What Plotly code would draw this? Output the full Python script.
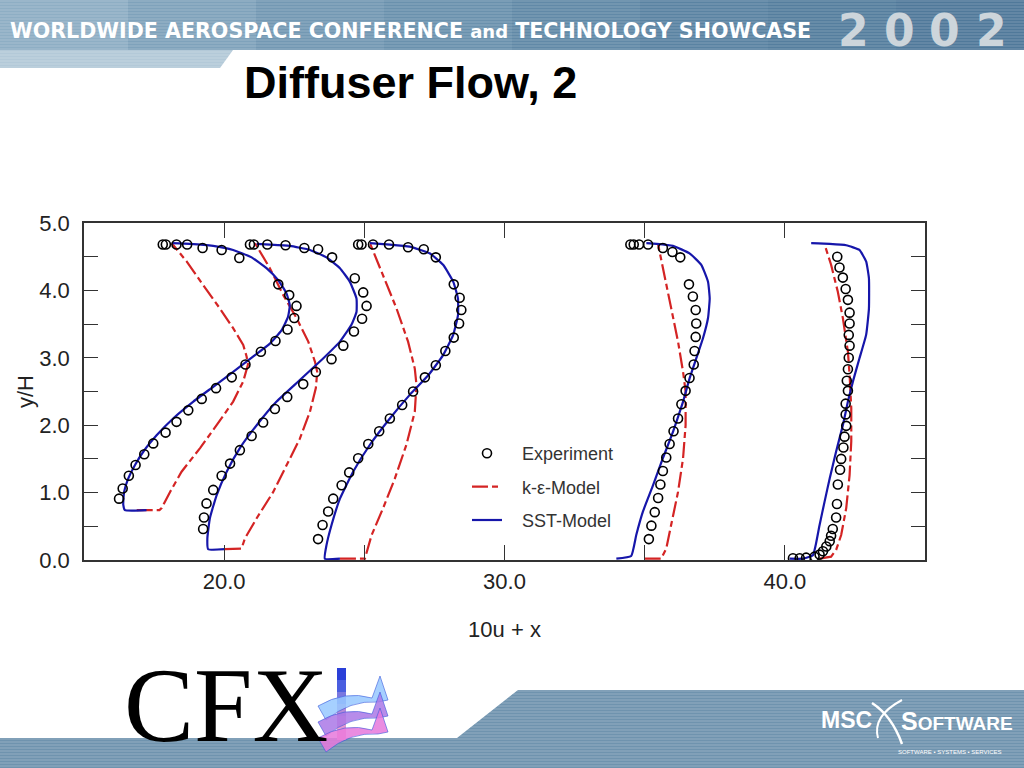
import plotly.graph_objects as go

# ---------------- data ----------------
exp1_x = [17.81, 17.92, 18.30, 18.68, 19.23, 19.91, 20.54, 21.93, 22.32, 22.58, 22.50, 22.26, 21.83, 21.31,
          20.76, 20.27, 19.71, 19.20, 18.72, 18.30, 17.91, 17.47, 17.15, 16.84, 16.60, 16.38, 16.25]
exp1_y = [4.68, 4.68, 4.68, 4.68, 4.63, 4.60, 4.48, 4.09, 3.93, 3.77, 3.59, 3.42, 3.25, 3.09,
          2.90, 2.71, 2.55, 2.39, 2.22, 2.05, 1.89, 1.73, 1.57, 1.41, 1.25, 1.06, 0.91]
sst1_x = [17.23, 16.46, 16.40, 16.43, 16.58, 16.82, 17.12, 17.59, 18.18, 18.90, 19.61, 20.32, 21.04, 21.63,
          22.05, 22.28, 22.34, 22.22, 21.93, 21.51, 20.98, 20.32, 19.61, 18.78, 18.13]
sst1_y = [0.74, 0.74, 0.82, 1.01, 1.21, 1.41, 1.61, 1.85, 2.10, 2.35, 2.57, 2.79, 3.02, 3.21,
          3.41, 3.61, 3.78, 3.96, 4.15, 4.33, 4.49, 4.60, 4.66, 4.69, 4.70]
ke1_x = [16.88, 17.69, 17.77, 18.07, 18.48, 19.14, 19.73, 20.32, 20.68, 20.85, 20.80, 20.68, 20.32, 19.85,
         19.25, 18.66, 18.13]
ke1_y = [0.74, 0.74, 0.77, 1.01, 1.31, 1.66, 2.00, 2.35, 2.65, 2.90, 3.02, 3.19, 3.44, 3.73,
         4.08, 4.43, 4.70]

exp2_x = [20.92, 21.06, 21.54, 22.19, 22.86, 23.35, 23.85, 24.66, 24.96, 25.08, 24.92, 24.63, 24.25, 23.83,
          23.27, 22.82, 22.25, 21.81, 21.39, 20.98, 20.56, 20.21, 19.91, 19.61, 19.37, 19.28, 19.25]
exp2_y = [4.68, 4.68, 4.68, 4.67, 4.63, 4.61, 4.49, 4.18, 3.97, 3.77, 3.58, 3.39, 3.18, 2.98,
          2.79, 2.61, 2.42, 2.24, 2.04, 1.84, 1.63, 1.43, 1.25, 1.04, 0.84, 0.63, 0.46]
sst2_x = [20.03, 19.43, 19.40, 19.49, 19.73, 20.09, 20.56, 21.16, 21.87, 22.70, 23.53, 24.13, 24.54, 24.72,
          24.72, 24.48, 24.13, 23.65, 23.06, 22.34, 21.63, 21.16]
sst2_y = [0.16, 0.16, 0.32, 0.62, 0.96, 1.31, 1.66, 2.00, 2.35, 2.67, 2.99, 3.24, 3.49, 3.68,
          3.88, 4.13, 4.33, 4.49, 4.60, 4.66, 4.68, 4.69]
ke2_x = [20.03, 20.62, 20.74, 21.16, 21.75, 22.23, 22.70, 23.06, 23.27, 23.32, 23.24, 23.00, 22.58, 22.11,
         21.63, 21.10]
ke2_y = [0.16, 0.17, 0.32, 0.62, 1.01, 1.41, 1.80, 2.20, 2.55, 2.79, 2.94, 3.24, 3.59, 3.93,
         4.33, 4.70]

exp3_x = [24.78, 24.90, 25.31, 25.88, 26.56, 27.12, 27.55, 28.19, 28.40, 28.46, 28.38, 28.19, 27.89, 27.55,
          27.16, 26.74, 26.35, 25.91, 25.53, 25.14, 24.78, 24.46, 24.19, 23.89, 23.71, 23.51, 23.35]
exp3_y = [4.68, 4.68, 4.68, 4.68, 4.64, 4.61, 4.49, 4.09, 3.89, 3.71, 3.51, 3.30, 3.10, 2.89,
          2.71, 2.50, 2.30, 2.10, 1.91, 1.72, 1.51, 1.30, 1.11, 0.91, 0.72, 0.52, 0.31]
sst3_x = [24.13, 23.59, 23.65, 23.83, 24.13, 24.60, 25.20, 25.91, 26.62, 27.28, 27.81, 28.17, 28.34, 28.34,
          28.17, 27.81, 27.33, 26.62, 25.91, 25.20]
sst3_y = [0.02, 0.02, 0.22, 0.52, 0.91, 1.31, 1.71, 2.10, 2.45, 2.74, 3.04, 3.34, 3.63, 3.88,
          4.13, 4.38, 4.55, 4.65, 4.68, 4.70]
ke3_x = [24.13, 25.02, 25.26, 25.67, 26.09, 26.50, 26.80, 26.86, 26.80, 26.56, 26.15, 25.67, 25.20]
ke3_y = [0.02, 0.02, 0.37, 0.77, 1.21, 1.71, 2.20, 2.60, 2.84, 3.24, 3.73, 4.23, 4.70]

exp4_x = [34.49, 34.61, 34.80, 35.12, 35.65, 35.99, 36.27, 36.58, 36.72, 36.82, 36.84, 36.82, 36.78, 36.75,
          36.60, 36.46, 36.31, 36.19, 36.03, 35.89, 35.77, 35.65, 35.56, 35.48, 35.36, 35.24, 35.15]
exp4_y = [4.68, 4.68, 4.68, 4.68, 4.63, 4.57, 4.49, 4.09, 3.91, 3.71, 3.51, 3.31, 3.10, 2.90,
          2.70, 2.51, 2.31, 2.10, 1.91, 1.72, 1.52, 1.32, 1.12, 0.92, 0.71, 0.51, 0.31]
sst4_x = [33.99, 34.52, 34.70, 34.94, 35.30, 35.65, 36.01, 36.37, 36.60, 36.84, 37.08, 37.26, 37.32, 37.26,
          37.02, 36.60, 36.01, 35.42, 35.06]
sst4_y = [0.02, 0.06, 0.37, 0.72, 1.11, 1.51, 1.90, 2.35, 2.69, 2.99, 3.29, 3.59, 3.88, 4.13,
          4.38, 4.55, 4.66, 4.69, 4.70]
ke4_x = [35.00, 35.59, 35.77, 35.95, 36.19, 36.37, 36.46, 36.46, 36.37, 36.19, 35.95, 35.71, 35.48]
ke4_y = [0.02, 0.02, 0.17, 0.52, 1.01, 1.51, 2.00, 2.50, 2.79, 3.24, 3.73, 4.23, 4.68]

exp5_x = [41.87, 41.95, 42.07, 42.17, 42.25, 42.31, 42.31, 42.28, 42.31, 42.28, 42.25, 42.21, 42.25, 42.17,
          42.17, 42.19, 42.13, 42.09, 42.01, 41.97, 41.89, 41.86, 41.83, 41.71, 41.65, 41.60, 41.48, 41.36,
          41.24, 41.06, 40.76, 40.53, 40.29]
exp5_y = [4.50, 4.34, 4.19, 4.02, 3.86, 3.67, 3.51, 3.34, 3.18, 3.00, 2.83, 2.66, 2.51, 2.32,
          2.16, 1.99, 1.83, 1.67, 1.50, 1.34, 1.12, 0.83, 0.63, 0.46, 0.36, 0.28, 0.20, 0.13,
          0.08, 0.05, 0.035, 0.025, 0.025]
sst5_x = [40.17, 40.64, 41.00, 41.10, 41.24, 41.42, 41.60, 41.83, 42.07, 42.25, 42.43, 42.66, 42.90, 43.00,
          43.00, 42.90, 42.66, 42.19, 41.60, 40.94]
sst5_y = [0.02, 0.02, 0.07, 0.22, 0.52, 0.87, 1.21, 1.61, 2.00, 2.35, 2.65, 2.99, 3.34, 3.73,
          4.18, 4.43, 4.60, 4.67, 4.69, 4.70]
ke5_x = [41.24, 41.65, 41.83, 42.01, 42.19, 42.31, 42.37, 42.37, 42.31, 42.25, 42.07, 41.89, 41.65, 41.42]
ke5_y = [0.02, 0.05, 0.15, 0.37, 0.77, 1.26, 1.76, 2.25, 2.75, 3.09, 3.59, 3.98, 4.38, 4.68]

x_tick_vals = [20, 25, 30, 35, 40]
x_tick_text = ["20.0", "", "30.0", "", "40.0"]
y_tick_vals = [0, 0.5, 1, 1.5, 2, 2.5, 3, 3.5, 4, 4.5, 5]
y_tick_text = ["0.0", "", "1.0", "", "2.0", "", "3.0", "", "4.0", "", "5.0"]

series_names = ["Experiment", "k-\u03b5-Model", "SST-Model"]


def join(*arrs):
    out = []
    for i, a in enumerate(arrs):
        if i:
            out.append(None)
        out.extend(a)
    return out


exp_x = join(exp1_x, exp2_x, exp3_x, exp4_x, exp5_x)
exp_y = join(exp1_y, exp2_y, exp3_y, exp4_y, exp5_y)
sst_x = join(sst1_x, sst2_x, sst3_x, sst4_x, sst5_x)
sst_y = join(sst1_y, sst2_y, sst3_y, sst4_y, sst5_y)
ke_x = join(ke1_x, ke2_x, ke3_x, ke4_x, ke5_x)
ke_y = join(ke1_y, ke2_y, ke3_y, ke4_y, ke5_y)

BLUE = "rgb(22,22,170)"
RED = "rgb(212,36,36)"
NB = "\u00a0\u00a0\u00a0"

fig = go.Figure()
fig.add_trace(go.Scatter(x=ke_x, y=ke_y, mode="lines", name=NB + series_names[1],
                         line=dict(color=RED, width=2.2, dash="16px,4px,6px,4px"),
                         legendgroup="b", legendrank=2))
fig.add_trace(go.Scatter(x=sst_x, y=sst_y, mode="lines", name=NB + series_names[2],
                         line=dict(color=BLUE, width=2.2, shape="spline", smoothing=0.4),
                         legendgroup="c", legendrank=3))
fig.add_trace(go.Scatter(x=exp_x, y=exp_y, mode="markers", name=NB + series_names[0],
                         marker=dict(symbol="circle-open", size=9, color="black", line=dict(width=1.6)),
                         legendgroup="a", legendrank=1))

# ---------------- page decoration helpers (pixel -> paper) ----------------
L, R, T, B = 84, 925, 223, 560
PW, PH = R - L, B - T


def fx(px):
    return (px - L) / PW


def fy(py):
    return (B - py) / PH


shapes = []
annotations = []

# top banner: gradient from pale (left) to darker steel blue (right)
banner_cols = ["#8eaec4", "#7fa2bb", "#7398b3", "#6a91ad", "#6189a7", "#5a83a2", "#557e9e", "#50799a"]
seg = 1024 / len(banner_cols)
for i, c in enumerate(banner_cols):
    shapes.append(dict(type="rect", xref="paper", yref="paper", x0=fx(i * seg), x1=fx((i + 1) * seg + 1),
                       y0=fy(50), y1=fy(0), fillcolor=c, line=dict(width=0), layer="below"))
# pale lower-left tab
shapes.append(dict(type="path", xref="paper", yref="paper",
                   path=f"M {fx(0)},{fy(50)} L {fx(233)},{fy(50)} L {fx(220)},{fy(68)} L {fx(0)},{fy(68)} Z",
                   fillcolor="#b3c9d8", line=dict(width=0), layer="below"))
# stripes
for yy in range(1, 68, 3):
    x_end = 1024 if yy < 50 else 233 - (yy - 50) * 0.72
    shapes.append(dict(type="line", xref="paper", yref="paper", x0=fx(0), x1=fx(x_end),
                       y0=fy(yy), y1=fy(yy), line=dict(color="rgba(255,255,255,0.22)", width=1), layer="below"))

annotations.append(dict(xref="paper", yref="paper", x=fx(8), y=fy(31), xanchor="left", yanchor="middle",
                        showarrow=False,
                        text="<b>WORLDWIDE AEROSPACE CONFERENCE <span style='font-size:18px'>and</span> TECHNOLOGY SHOWCASE</b>",
                        font=dict(family="DejaVu Sans", size=20.6, color="white")))
for i, d in enumerate("2002"):
    annotations.append(dict(xref="paper", yref="paper", x=fx(853 + 46 * i), y=fy(30), xanchor="center",
                            yanchor="middle", showarrow=False, text=f"<b>{d}</b>",
                            font=dict(family="DejaVu Sans", size=44, color="#cdd5db")))

annotations.append(dict(xref="paper", yref="paper", x=fx(410), y=fy(82), xanchor="center", yanchor="middle",
                        showarrow=False, text="<b>Diffuser Flow, 2</b>",
                        font=dict(family="Liberation Sans", size=45, color="black")))

# bottom band
shapes.append(dict(type="path", xref="paper", yref="paper",
                   path=(f"M {fx(0)},{fy(738)} L {fx(457)},{fy(738)} L {fx(518)},{fy(690)} L {fx(1024)},{fy(690)} "
                         f"L {fx(1024)},{fy(768)} L {fx(0)},{fy(768)} Z"),
                   fillcolor="#6f93ae", line=dict(width=0), layer="below"))
for yy in range(691, 768, 3):
    x_start = 0 if yy >= 738 else 518 - (yy - 690) * (61 / 48)
    shapes.append(dict(type="line", xref="paper", yref="paper", x0=fx(x_start), x1=fx(1024),
                       y0=fy(yy), y1=fy(yy), line=dict(color="rgba(255,255,255,0.25)", width=1), layer="below"))

# CFX logo
annotations.append(dict(xref="paper", yref="paper", x=fx(122), y=fy(705), xanchor="left", yanchor="middle",
                        showarrow=False, text="CFX",
                        font=dict(family="Liberation Serif", size=105, color="black")))
bar_cols = ["#2a3fd8", "#4a5ee0", "#7a78e0", "#b48ad8", "#e095d2", "#f6a0cf"]
for i, c in enumerate(bar_cols):
    shapes.append(dict(type="rect", xref="paper", yref="paper", x0=fx(337), x1=fx(346),
                       y0=fy(668 + 12 * (i + 1)), y1=fy(668 + 12 * i), fillcolor=c, line=dict(width=0)))
swoosh_cols = ["rgba(150,200,255,0.85)", "rgba(170,120,230,0.85)", "rgba(230,120,220,0.85)"]
for i, c in enumerate(swoosh_cols):
    o = 16 * i
    shapes.append(dict(type="path", xref="paper", yref="paper",
                       path=(f"M {fx(318)},{fy(706 + o)} Q {fx(345)},{fy(690 + o)} {fx(372)},{fy(698 + o)} "
                             f"L {fx(380)},{fy(676 + o)} L {fx(388)},{fy(700 + o)} L {fx(378)},{fy(702 + o)} "
                             f"Q {fx(350)},{fy(700 + o)} {fx(326)},{fy(720 + o)} Z"),
                       fillcolor=c, line=dict(color="rgba(60,90,220,0.6)", width=1)))

# MSC Software logo
annotations.append(dict(xref="paper", yref="paper", x=fx(846), y=fy(720), xanchor="center", yanchor="middle",
                        showarrow=False, text="<b>MSC</b>",
                        font=dict(family="Liberation Sans", size=23, color="white")))
annotations.append(dict(xref="paper", yref="paper", x=fx(957), y=fy(721), xanchor="center", yanchor="middle",
                        showarrow=False, text="<b><span style='font-size:25px'>S</span>OFTWARE</b>",
                        font=dict(family="Liberation Sans", size=19, color="white")))
annotations.append(dict(xref="paper", yref="paper", x=fx(950), y=fy(752), xanchor="center", yanchor="middle",
                        showarrow=False, text="SOFTWARE \u2022 SYSTEMS \u2022 SERVICES",
                        font=dict(family="Liberation Sans", size=6, color="white")))
shapes.append(dict(type="path", xref="paper", yref="paper",
                   path=f"M {fx(872)},{fy(703)} Q {fx(892)},{fy(716)} {fx(902)},{fy(744)}",
                   line=dict(color="white", width=2.5)))
shapes.append(dict(type="path", xref="paper", yref="paper",
                   path=f"M {fx(902)},{fy(700)} Q {fx(872)},{fy(716)} {fx(878)},{fy(738)}",
                   line=dict(color="white", width=2)))

fig.update_layout(
    width=1024, height=768,
    margin=dict(l=L, r=1024 - R, t=T, b=768 - B, pad=0),
    paper_bgcolor="white", plot_bgcolor="white",
    font=dict(family="Liberation Sans", color="#222"),
    shapes=shapes, annotations=annotations,
    showlegend=True,
    legend=dict(x=fx(467), y=fy(435), xanchor="left", yanchor="top", bgcolor="rgba(0,0,0,0)",
                borderwidth=0, font=dict(size=18, color="#333"), traceorder="grouped",
                tracegroupgap=7, itemwidth=30),
)
fig.update_xaxes(range=[15, 45], tickvals=x_tick_vals, ticktext=x_tick_text, ticks="inside", ticklen=15,
                 tickwidth=1.3, tickcolor="#333", showline=True, linecolor="#333", linewidth=1.5,
                 mirror="ticks", showgrid=False, zeroline=False, tickfont=dict(size=22, color="#222"),
                 ticklabelstandoff=1,
                 title=dict(text="10u + x", font=dict(size=22, color="#222"), standoff=28))
fig.update_yaxes(range=[0, 5], tickvals=y_tick_vals, ticktext=y_tick_text, ticks="inside", ticklen=14,
                 tickwidth=1.3, tickcolor="#333", showline=True, linecolor="#333", linewidth=1.5,
                 mirror="ticks", showgrid=False, zeroline=False, tickfont=dict(size=22, color="#222"),
                 ticklabelstandoff=8,
                 title=dict(text="y/H", font=dict(size=22, color="#222"), standoff=0))

fig.write_html("out.html", config={"displayModeBar": False},
               post_script="document.body.style.margin='0px';document.body.style.overflow='hidden';")
